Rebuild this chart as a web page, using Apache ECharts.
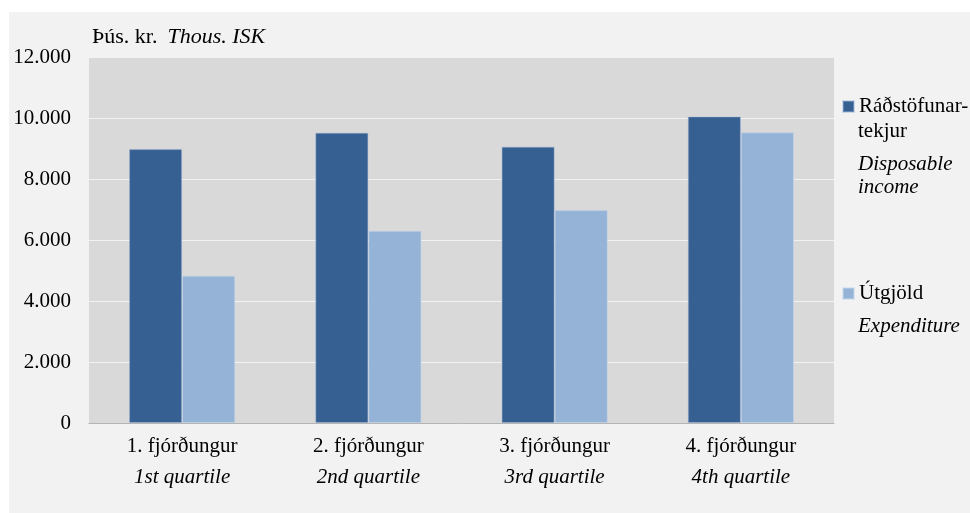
<!DOCTYPE html>
<html>
<head>
<meta charset="utf-8">
<script src="https://cdn.jsdelivr.net/npm/echarts@6/dist/echarts.min.js"></script>
<style>
html,body{margin:0;padding:0;background:#fff;}
#c{width:970px;height:513px;}
</style>
</head>
<body>
<div id="c"></div>
<script>
// Data
const categoriesIs = ['1. fjórðungur', '2. fjórðungur', '3. fjórðungur', '4. fjórðungur'];
const categoriesEn = ['1st quartile', '2nd quartile', '3rd quartile', '4th quartile'];
const disposableIncome = [8980, 9520, 9060, 10050];
const expenditure = [4830, 6300, 6980, 9530];
const yTickLabels = ['0', '2.000', '4.000', '6.000', '8.000', '10.000', '12.000'];
const seriesNames = ['Ráðstöfunartekjur', 'Útgjöld'];

const FONT = 'Liberation Serif';
const chart = echarts.init(document.getElementById('c'), null, {renderer: 'canvas'});

const option = {
  backgroundColor: '#ffffff',
  animation: false,
  graphic: [
    {type: 'rect', left: 9, top: 12, z: -10, shape: {width: 961, height: 501}, style: {fill: '#f2f2f2'}},
    {type: 'text', left: 858, top: 121, style: {text: 'tekjur', font: '21px "Liberation Serif"', fill: '#000'}},
    {type: 'text', left: 858, top: 154, style: {text: 'Disposable', font: 'italic 21px "Liberation Serif"', fill: '#000'}},
    {type: 'text', left: 858, top: 177, style: {text: 'income', font: 'italic 21px "Liberation Serif"', fill: '#000'}},
    {type: 'text', left: 858, top: 316, style: {text: 'Expenditure', font: 'italic 21px "Liberation Serif"', fill: '#000'}}
  ],
  title: {
    left: 92,
    top: 26,
    padding: 0,
    text: '{a|Þús. kr.}  {i|Thous. ISK}',
    textStyle: {
      fontWeight: 'normal',
      rich: {
        a: {fontFamily: FONT, fontSize: 22, fontWeight: 'normal', color: '#000'},
        i: {fontFamily: FONT, fontSize: 22, fontWeight: 'normal', fontStyle: 'italic', color: '#000'}
      }
    }
  },
  legend: [
    {
      data: [seriesNames[0]],
      left: 842, top: 96, padding: 0,
      itemWidth: 11, itemHeight: 11, icon: 'rect',
      formatter: () => 'Ráðstöfunar-',
      textStyle: {fontFamily: FONT, fontSize: 21, color: '#000'}
    },
    {
      data: [seriesNames[1]],
      left: 842, top: 283, padding: 0,
      itemWidth: 11, itemHeight: 11, icon: 'rect',
      textStyle: {fontFamily: FONT, fontSize: 21, color: '#000'}
    }
  ],
  grid: {
    left: 89, top: 57, right: 136, bottom: 90,
    show: true, backgroundColor: '#d9d9d9', borderWidth: 0
  },
  xAxis: {
    type: 'category',
    data: categoriesIs,
    axisTick: {show: false},
    axisLine: {show: true, lineStyle: {color: '#b5b5b5', width: 1}},
    axisLabel: {
      margin: 8,
      interval: 0,
      formatter: (v, i) => '{a|' + v + '}\n{i|' + categoriesEn[i] + '}',
      rich: {
        a: {fontFamily: FONT, fontSize: 21, color: '#000', lineHeight: 31},
        i: {fontFamily: FONT, fontSize: 21, fontStyle: 'italic', color: '#000', lineHeight: 31}
      }
    }
  },
  yAxis: {
    type: 'value',
    min: 0, max: 12000, interval: 2000,
    axisLine: {show: false},
    axisTick: {show: false},
    splitLine: {show: true, lineStyle: {color: '#f2f2f2', width: 1}},
    axisLabel: {
      margin: 18,
      fontFamily: FONT, fontSize: 21, color: '#000',
      formatter: (v) => yTickLabels[Math.round(v / 2000)]
    }
  },
  series: [
    {
      name: seriesNames[0], type: 'bar', data: disposableIncome,
      barGap: '0%', barCategoryGap: '43%',
      itemStyle: {color: '#376092', borderColor: 'rgba(160,185,215,0.45)', borderWidth: 1}
    },
    {
      name: seriesNames[1], type: 'bar', data: expenditure,
      barGap: '0%', barCategoryGap: '43%',
      itemStyle: {color: '#95b3d7', borderColor: 'rgba(200,215,235,0.5)', borderWidth: 1}
    }
  ]
};
chart.setOption(option);
</script>
</body>
</html>
